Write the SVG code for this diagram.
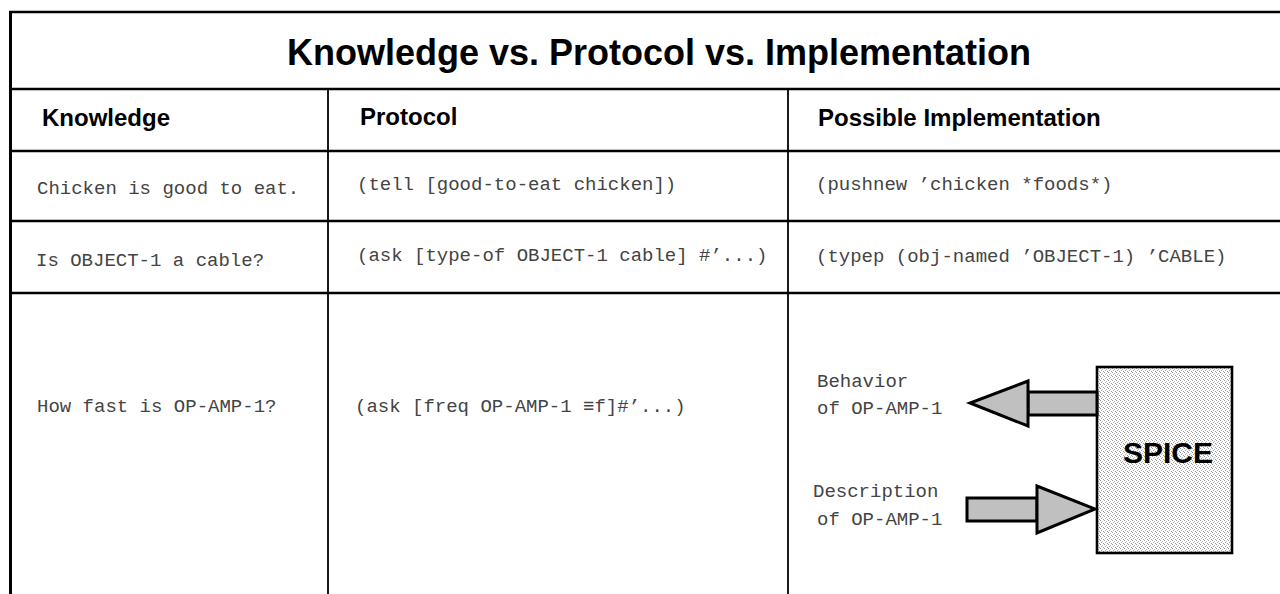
<svg xmlns="http://www.w3.org/2000/svg" width="1280" height="594" viewBox="0 0 1280 594">
<style>
.ln{stroke:#000;fill:none}
.h{stroke-width:2.6}
.v{stroke-width:1.8}
.title{font-family:"Liberation Sans",Arial,sans-serif;font-weight:bold;font-size:36px;fill:#000}
.hdr{font-family:"Liberation Sans",Arial,sans-serif;font-weight:bold;font-size:24px;fill:#000}
.mono{font-family:"Liberation Mono","Courier New",monospace;font-size:19px;fill:#444}
.arr{fill:#c0c0c0;stroke:#000;stroke-width:3;stroke-linejoin:miter}
.spice{font-family:"Liberation Sans",Arial,sans-serif;font-weight:bold;font-size:30px;fill:#000}
</style>
<defs>
<pattern id="dots" width="4" height="4" patternUnits="userSpaceOnUse">
<rect width="4" height="4" fill="#fff"/>
<rect x="0" y="0" width="1" height="1" fill="#999"/>
<rect x="2" y="1" width="1" height="1" fill="#bbb"/>
<rect x="1" y="2" width="1" height="1" fill="#aaa"/>
<rect x="3" y="3" width="1" height="1" fill="#999"/>
</pattern>
</defs>
<rect width="1280" height="594" fill="#fff"/>
<g id="table">
<line class="ln h" x1="9" y1="12" x2="1280" y2="12"/>
<line class="ln" stroke-width="3" x1="10.5" y1="11" x2="10.5" y2="594"/>
<line class="ln h" x1="10" y1="89" x2="1280" y2="89"/>
<line class="ln h" x1="10" y1="151" x2="1280" y2="151"/>
<line class="ln h" x1="10" y1="221" x2="1280" y2="221"/>
<line class="ln h" x1="10" y1="293" x2="1280" y2="293"/>
<line class="ln v" x1="328" y1="89" x2="328" y2="594"/>
<line class="ln v" x1="788" y1="89" x2="788" y2="594"/>
</g>
<g id="title">
<text class="title" x="659" y="65" text-anchor="middle">Knowledge vs. Protocol vs. Implementation</text>
</g>
<g id="headers">
<text class="hdr" x="42" y="126">Knowledge</text>
<text class="hdr" x="360" y="125">Protocol</text>
<text class="hdr" x="818" y="126">Possible Implementation</text>
</g>
<g id="row1">
<text class="mono" x="37" y="194">Chicken is good to eat.</text>
<text class="mono" x="357" y="190">(tell [good-to-eat chicken])</text>
<text class="mono" x="816" y="190">(pushnew ’chicken *foods*)</text>
</g>
<g id="row2">
<text class="mono" x="36" y="266">Is OBJECT-1 a cable?</text>
<text class="mono" x="357" y="261">(ask [type-of OBJECT-1 cable] #’...)</text>
<text class="mono" x="816" y="262">(typep (obj-named ’OBJECT-1) ’CABLE)</text>
</g>
<g id="row3">
<text class="mono" x="37" y="412">How fast is OP-AMP-1?</text>
<text class="mono" x="355" y="412">(ask [freq OP-AMP-1 ≡f]#’...)</text>
<text class="mono" x="817" y="387">Behavior</text>
<text class="mono" x="817" y="414">of OP-AMP-1</text>
<text class="mono" x="813" y="497">Description</text>
<text class="mono" x="817" y="525">of OP-AMP-1</text>
</g>
<g id="spice">
<rect x="1097" y="367" width="135" height="186" fill="url(#dots)" stroke="#000" stroke-width="2.6"/>
<text class="spice" x="1168" y="463" text-anchor="middle">SPICE</text>
</g>
<g id="connectors">
<rect class="arr" x="1028" y="392" width="69" height="23"/>
<polygon class="arr" points="1028,381 1028,426 970,403"/>
<rect class="arr" x="967" y="498" width="70" height="23"/>
<polygon class="arr" points="1037,486 1037,533 1095,509"/>
</g>
</svg>
